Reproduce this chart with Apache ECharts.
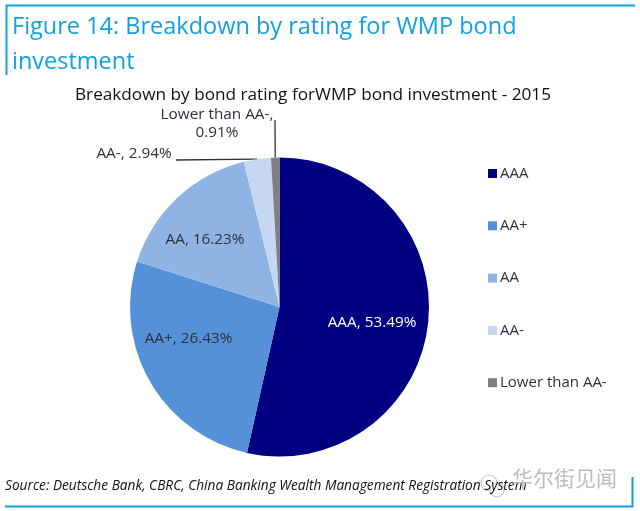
<!DOCTYPE html>
<html><head><meta charset="utf-8">
<style>html,body{margin:0;padding:0;background:#fff}#c{width:640px;height:511px}</style>
<script src="https://cdn.jsdelivr.net/npm/echarts@6/dist/echarts.min.js"></script>
</head><body><div id="c"></div>
<script>
const categories = ['AAA','AA+','AA','AA-','Lower than AA-'];
const values = [53.49,26.43,16.23,2.94,0.91];
const colors = ['#000080','#5591D8','#8FB4E3','#C6D8F1','#808080'];
const labelSpots = [
  {x:372,y:323,color:'#fff'},
  {x:188.5,y:339,color:'#2f2f3a'},
  {x:205,y:240,color:'#2f2f3a'},
  {x:134,y:154,color:'#2f2f3a'},
  {x:217,y:124,color:'#2f2f3a'}
];
const leaderEnds = {3:[176,160],4:[275,120]};
const font = '"Open Sans","Noto Sans",sans-serif';
const blue = '#12A0E0';
const cx = 279.5, cy = 307, radius = 149.5;
const total = values.reduce((a,b)=>a+b,0);
function edgePoint(i){
  const before = values.slice(0,i).reduce((a,b)=>a+b,0);
  const a = (before+values[i]/2)/total*2*Math.PI;
  return [cx+radius*Math.sin(a),cy-radius*Math.cos(a)];
}
const chart = echarts.init(document.getElementById('c'),null,{renderer:'canvas'});
chart.setOption({
  animation:false,
  backgroundColor:'#fff',
  title:[
    {text:'Figure 14: Breakdown by rating for WMP bond\ninvestment',left:7,top:5,
     textStyle:{color:blue,fontFamily:font,fontWeight:400,fontSize:23.5,lineHeight:35}},
    {text:'Breakdown by bond rating forWMP bond investment - 2015',left:70,top:79,
     textStyle:{color:'#111',fontFamily:font,fontWeight:400,fontSize:17.2,lineHeight:22}},
    {text:'Source: Deutsche Bank, CBRC, China Banking Wealth Management Registration System',left:0,top:473,
     textStyle:{color:'#111',fontFamily:font,fontStyle:'italic',fontWeight:400,fontSize:13.7,lineHeight:16}},
    {text:'华尔街见闻',left:507,top:462,
     textStyle:{color:'#bdbdbd',fontFamily:'"Noto Sans CJK SC"',fontWeight:400,fontSize:21,lineHeight:22}}
  ],
  legend:{
    orient:'vertical',left:483,top:161,itemWidth:9,itemHeight:9,itemGap:37.3,icon:'rect',
    data:categories,selectedMode:false,
    textStyle:{color:'#2f2f3a',fontFamily:font,fontSize:15,padding:[0,0,0,-2],lineHeight:15}
  },
  series:[{
    type:'pie',center:[cx,cy],radius:[0,radius],startAngle:90,clockwise:true,
    silent:true,
    data:categories.map((name,i)=>({name,value:values[i],itemStyle:{color:colors[i]},
      label:{color:labelSpots[i].color}})),
    label:{show:true,position:'outside',
      formatter:p=>p.dataIndex===4?'Lower than AA-,\n'+p.value.toFixed(2)+'%':p.name+', '+p.value.toFixed(2)+'%',
      fontFamily:font,fontSize:15.3,lineHeight:18,align:'center',verticalAlign:'middle'},
    labelLine:{show:false},
    labelLayout:p=>({x:labelSpots[p.dataIndex].x,y:labelSpots[p.dataIndex].y,align:'center',verticalAlign:'middle'})
  }],
  graphic:[
    {type:'polyline',silent:true,shape:{points:[[6.5,75],[6.5,5.5],[635,5.5]]},style:{stroke:blue,lineWidth:2,fill:null}},
    {type:'polyline',silent:true,shape:{points:[[5,506.5],[632.5,506.5],[632.5,477]]},style:{stroke:blue,lineWidth:2,fill:null}},
    {type:'polyline',silent:true,shape:{points:[edgePoint(3),leaderEnds[3]]},style:{stroke:'#333',lineWidth:1.3,fill:null}},
    {type:'polyline',silent:true,shape:{points:[edgePoint(4),leaderEnds[4]]},style:{stroke:'#333',lineWidth:1.3,fill:null}},
    {type:'circle',silent:true,shape:{cx:489,cy:483,r:8},style:{fill:'rgba(255,255,255,0.85)',stroke:'#c8c8c8',lineWidth:1.2}},
    {type:'circle',silent:true,shape:{cx:497,cy:490,r:7},style:{fill:'rgba(255,255,255,0.9)',stroke:'#c8c8c8',lineWidth:1.2}}
  ]
});
</script></body></html>
